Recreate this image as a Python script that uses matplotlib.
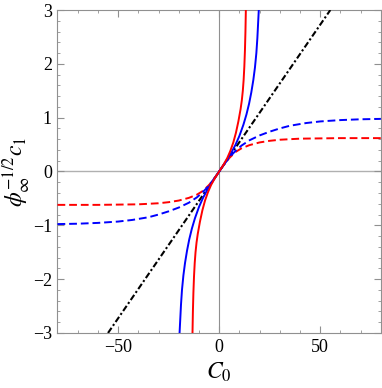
import matplotlib
matplotlib.use("Agg")
import matplotlib.pyplot as plt
from matplotlib.ticker import MultipleLocator

plt.rcParams['font.family'] = ['Liberation Serif', 'DejaVu Serif']
plt.rcParams['mathtext.fontset'] = 'stix'

# values (odd curves, both branches listed)
red_solid_x = [-13.2, -13.0, -12.75, -12.45, -12.1, -11.7, -11.2, -10.6, -9.5, -8.3, -7.0, -5.5, -4.0, -2.0,
               0.0, 2.0, 4.0, 5.5, 7.0, 8.3, 9.5, 10.6, 11.2, 11.7, 12.1, 12.45, 12.75, 13.0, 13.2]
red_solid_y = [-3.0, -2.6, -2.25, -1.95, -1.7, -1.5, -1.32, -1.16, -0.93, -0.72, -0.54, -0.38, -0.25, -0.115,
               0.0, 0.115, 0.25, 0.38, 0.54, 0.72, 0.93, 1.16, 1.32, 1.5, 1.7, 1.95, 2.25, 2.6, 3.0]

blue_solid_x = [-19.6, -19.3, -18.9, -18.4, -17.7, -16.9, -15.9, -14.8, -13.5, -12.0, -10.0, -8.0, -6.0, -4.0, -2.0,
                0.0, 2.0, 4.0, 6.0, 8.0, 10.0, 12.0, 13.5, 14.8, 15.9, 16.9, 17.7, 18.4, 18.9, 19.3, 19.6]
blue_solid_y = [-3.0, -2.78, -2.48, -2.2, -1.93, -1.7, -1.47, -1.26, -1.06, -0.87, -0.66, -0.49, -0.35, -0.228, -0.112,
                0.0, 0.112, 0.228, 0.35, 0.49, 0.66, 0.87, 1.06, 1.26, 1.47, 1.7, 1.93, 2.2, 2.48, 2.78, 3.0]

red_dash_x = [-80, -60, -50, -40, -30, -25, -20, -15, -11, -8, -5, -2,
              0, 2, 5, 8, 11, 15, 20, 25, 30, 40, 50, 60, 80]
red_dash_y = [-0.62, -0.62, -0.615, -0.61, -0.59, -0.57, -0.54, -0.49, -0.43, -0.36, -0.25, -0.11,
              0.0, 0.11, 0.25, 0.36, 0.43, 0.49, 0.54, 0.57, 0.59, 0.61, 0.615, 0.62, 0.62]

blue_dash_x = [-80, -70, -60, -50, -43, -35, -30, -25, -20, -15, -11, -8, -5, -2,
               0, 2, 5, 8, 11, 15, 20, 25, 30, 35, 43, 50, 60, 70, 80]
blue_dash_y = [-0.977, -0.97, -0.955, -0.93, -0.9, -0.85, -0.8, -0.74, -0.67, -0.58, -0.48, -0.38, -0.26, -0.11,
               0.0, 0.11, 0.26, 0.38, 0.48, 0.58, 0.67, 0.74, 0.8, 0.85, 0.9, 0.93, 0.955, 0.97, 0.977]

line_x = [-55, 55]
line_y = [-3.0, 3.0]

fig = plt.figure(figsize=(3.82, 3.88), dpi=100)
ax = fig.add_axes([0.1505, 0.1418, 0.8465, 0.8324])

ax.axhline(0, color='#b0b0b0', lw=1.0, zorder=1)
ax.axvline(0, color='#909090', lw=0.8, zorder=1)

ax.plot(line_x, line_y, color='black', lw=1.5, dashes=(3, 1.2, 1, 1.2), zorder=3)
ax.plot(red_dash_x, red_dash_y, color='red', lw=1.4, dashes=(4, 2), zorder=4)
ax.plot(blue_dash_x, blue_dash_y, color='blue', lw=1.4, dashes=(4, 2), zorder=4)
ax.plot(blue_solid_x, blue_solid_y, color='blue', lw=1.4, zorder=5)
ax.plot(red_solid_x, red_solid_y, color='red', lw=1.4, zorder=5)

ax.set_xlim(-80, 80)
ax.set_ylim(-3, 3)
ax.xaxis.set_major_locator(MultipleLocator(50))
ax.xaxis.set_minor_locator(MultipleLocator(10))
ax.yaxis.set_major_locator(MultipleLocator(1))
ax.yaxis.set_minor_locator(MultipleLocator(0.2))
ax.tick_params(which='both', direction='in', top=True, right=True,
               color='#909090', labelsize=13, pad=4)
ax.tick_params(which='major', length=5, width=0.8)
ax.tick_params(which='minor', length=2.5, width=0.6)
for s in ax.spines.values():
    s.set_color('#909090')
    s.set_linewidth(0.8)

ax.set_xlabel(r'$C_0$', fontsize=17, labelpad=4)
ax.set_ylabel(r'$\phi_\infty^{-1/2}c_1$', fontsize=17, labelpad=0)

fig.savefig('out.png', dpi=100)
